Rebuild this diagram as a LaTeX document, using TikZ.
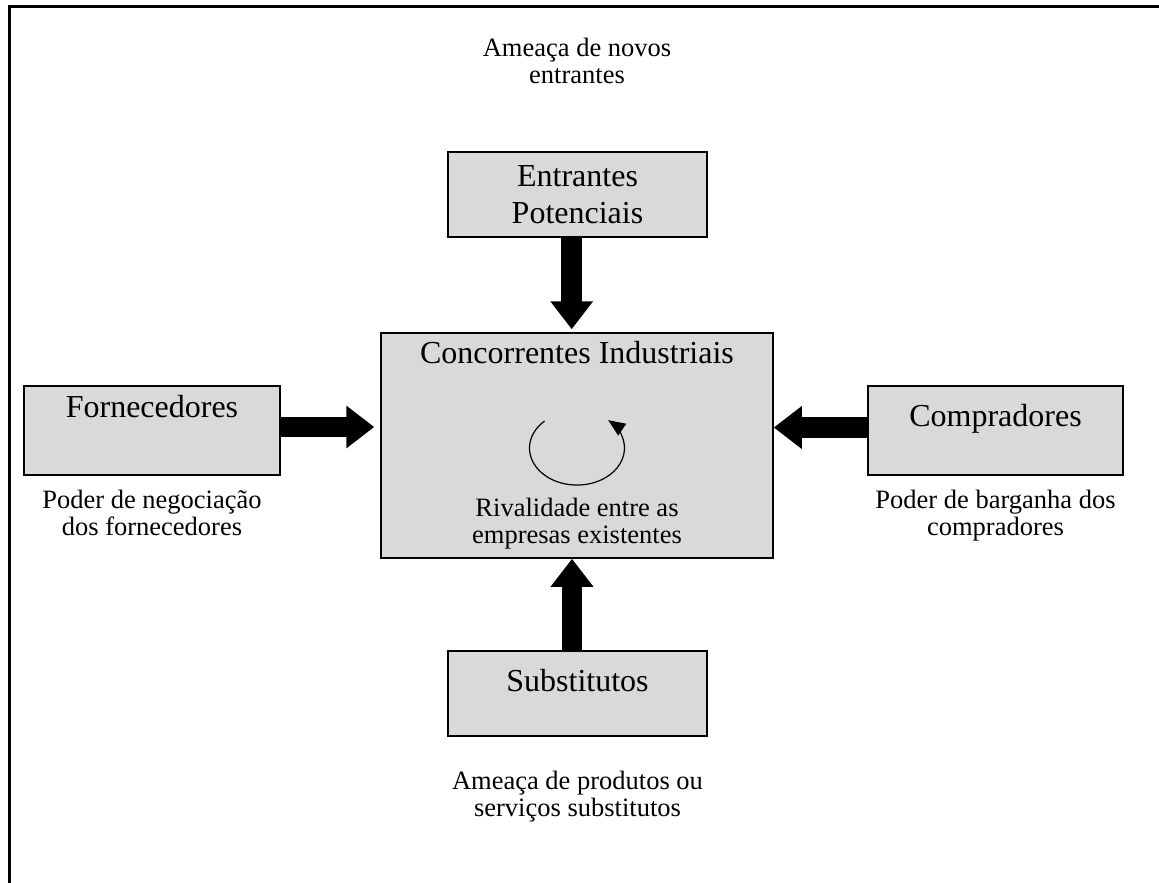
\documentclass[tikz,border=0pt]{standalone}
\usepackage{fontspec}
\setmainfont{Liberation Serif}
\usetikzlibrary{arrows.meta}
\definecolor{boxgray}{RGB}{217,217,217}
\begin{document}
\begin{tikzpicture}[x=1pt,y=-1pt,
  box/.style={draw=black, line width=1.5pt, fill=boxgray, rectangle, inner sep=0pt},
  % the base anchor of a multi-line node sits on its last line
  title/.style={font=\fontsize{32}{36.7}\selectfont, anchor=base, align=center, inner sep=0pt},
  note/.style={font=\fontsize{26.5}{26.5}\selectfont, anchor=base, align=center, inner sep=0pt},
  force/.style={line width=20.5pt, -{Triangle[length=28pt,width=41pt]}},
  frameline/.style={line width=3pt}]
\useasboundingbox (0,0) rectangle (1159,883);

% outer frame (top and left edges)
\draw[frameline] (1159,7) -- (9,7) -- (9,883);

% the five forces
\node[box, minimum width=259pt, minimum height=85pt]  (entr) at (577.5,194.5) {};
\node[box, minimum width=392pt, minimum height=225pt] (conc) at (577,445.5)   {};
\node[box, minimum width=256pt, minimum height=89pt]  (forn) at (152,430.5)   {};
\node[box, minimum width=255pt, minimum height=89pt]  (comp) at (995.5,430.5) {};
\node[box, minimum width=259pt, minimum height=85pt]  (subs) at (577.5,693.5) {};

% box titles
\node[title] (entrt) at (577.5,223.3) {Entrantes\\Potenciais};
\node[title] (conct) at (577,363)     {Concorrentes Industriais};
\node[title] (fornt) at (152,417.3)   {Fornecedores};
\node[title] (compt) at (995.5,426.7) {Compradores};
\node[title] (subst) at (577.5,691)   {Substitutos};

% captions
\node[note] (rivt)  at (577,543.2) {Rivalidade entre as\\empresas existentes};
\node[note] (topn)  at (577,83)    {Ameaça de novos\\entrantes};
\node[note] (fornn) at (152,535)   {Poder de negociação\\dos fornecedores};
\node[note] (compn) at (995.5,535) {Poder de barganha dos\\compradores};
\node[note] (subsn) at (577.5,816) {Ameaça de produtos ou\\serviços substitutos};

% thick arrows towards the industry
\draw[force] ([xshift=-5.8pt]entr.south) -- ([xshift=-5.3pt,yshift=3pt]conc.north);
\draw[force] ([yshift=3.5pt]forn.east) -- ([xshift=-6pt,yshift=18.5pt]conc.west);
\draw[force] ([yshift=3pt]comp.west) -- ([yshift=18pt]conc.east);
\draw[force] ([xshift=-5.5pt]subs.north) -- ([xshift=-5pt]conc.south);

% rivalry cycle
\draw[line width=1.2pt, -{Triangle[length=17pt,width=14pt]}]
  (544.6,421) arc[start angle=133, end angle=409, x radius=47.5pt, y radius=37pt];
\end{tikzpicture}
\end{document}
